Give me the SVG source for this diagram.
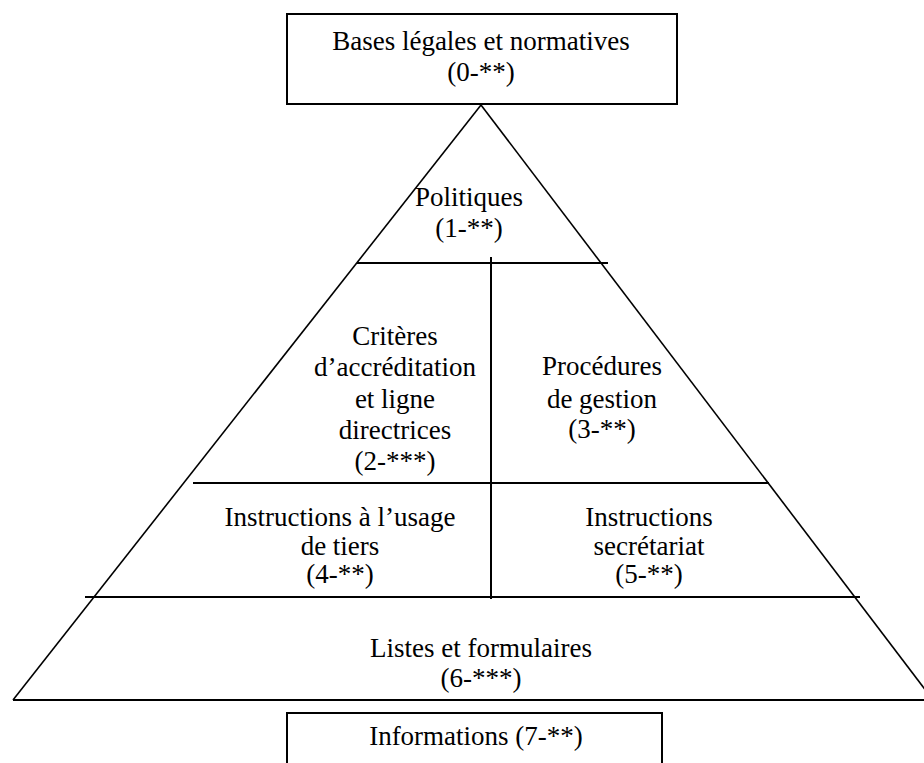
<svg xmlns="http://www.w3.org/2000/svg" width="924" height="763" viewBox="0 0 924 763">
<style>
  text { font-family: "Liberation Serif", "Times New Roman", serif; font-size: 27px; fill: #000; text-anchor: middle; }
  .box { fill: #fff; stroke: #000; stroke-width: 2; }
  .ln { stroke: #000; stroke-width: 2; fill: none; }
  .edge { stroke: #000; stroke-width: 1.6; fill: none; }
</style>
<rect width="924" height="763" fill="#fff"/>
<g id="connectors">
  <line class="edge" x1="481" y1="105" x2="13" y2="700"/>
  <line class="edge" x1="481" y1="105" x2="933" y2="700"/>
  <line class="ln" x1="357" y1="263" x2="608" y2="263"/>
  <line class="ln" x1="491" y1="257" x2="491" y2="599"/>
  <line class="ln" x1="193" y1="483" x2="769" y2="483"/>
  <line class="ln" x1="85" y1="597" x2="860" y2="597"/>
  <line class="ln" x1="13" y1="700" x2="924" y2="700"/>
</g>
<g id="n0">
  <rect class="box" x="287" y="14" width="390" height="90"/>
  <text x="481" y="50">Bases légales et normatives</text>
  <text x="481" y="81">(0-**)</text>
</g>
<g id="n1">
  <text x="469" y="206">Politiques</text>
  <text x="469" y="237">(1-**)</text>
</g>
<g id="n2">
  <text x="395" y="345">Critères</text>
  <text x="395" y="376">d’accréditation</text>
  <text x="395" y="408">et ligne</text>
  <text x="395" y="439">directrices</text>
  <text x="395" y="470">(2-***)</text>
</g>
<g id="n3">
  <text x="602" y="375">Procédures</text>
  <text x="602" y="408">de gestion</text>
  <text x="602" y="438">(3-**)</text>
</g>
<g id="n4">
  <text x="340" y="526">Instructions à l’usage</text>
  <text x="340" y="555">de tiers</text>
  <text x="340" y="583">(4-**)</text>
</g>
<g id="n5">
  <text x="649" y="526">Instructions</text>
  <text x="649" y="555">secrétariat</text>
  <text x="649" y="583">(5-**)</text>
</g>
<g id="n6">
  <text x="481" y="657">Listes et formulaires</text>
  <text x="481" y="687">(6-***)</text>
</g>
<g id="n7">
  <rect class="box" x="287" y="713" width="375" height="60"/>
  <text x="476" y="745">Informations (7-**)</text>
</g>
</svg>
